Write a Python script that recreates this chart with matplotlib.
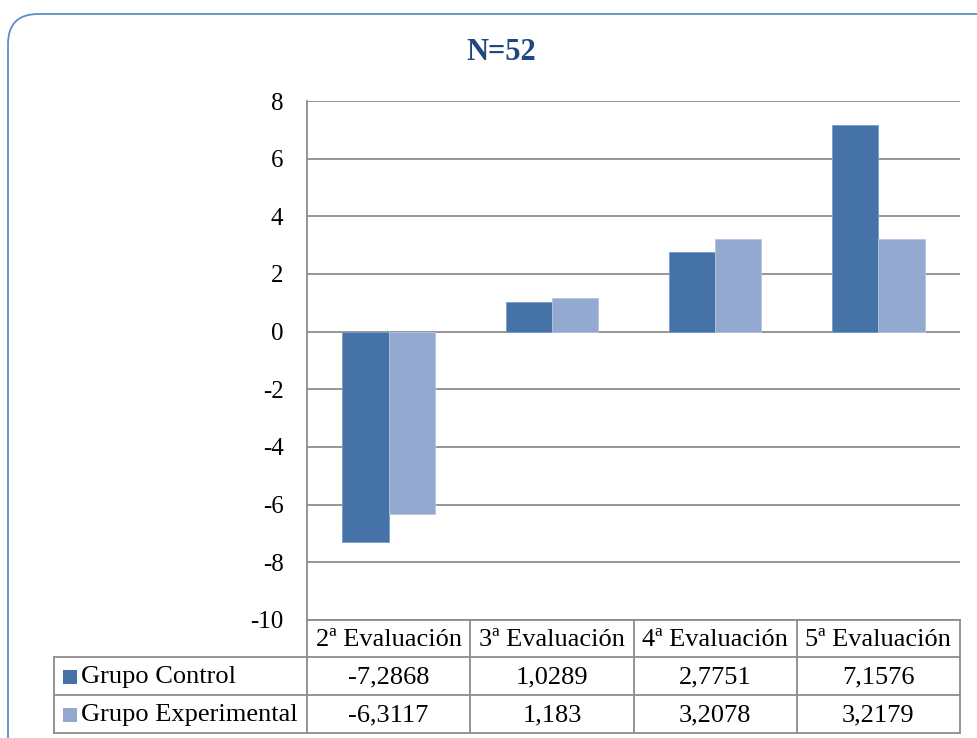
import matplotlib
matplotlib.use("Agg")
import matplotlib.pyplot as plt
from matplotlib.patches import FancyBboxPatch, Rectangle
from matplotlib.lines import Line2D

categories = ["2ª Evaluación", "3ª Evaluación", "4ª Evaluación", "5ª Evaluación"]
series_names = ["Grupo Control", "Grupo Experimental"]
control = [-7.2868, 1.0289, 2.7751, 7.1576]
experimental = [-6.3117, 1.183, 3.2078, 3.2179]
control_labels = ["-7,2868", "1,0289", "2,7751", "7,1576"]
experimental_labels = ["-6,3117", "1,183", "3,2078", "3,2179"]
yticks = [-10, -8, -6, -4, -2, 0, 2, 4, 6, 8]
title = "N=52"

colors = ["#4572A7", "#93A9CF"]
FONT = "Liberation Serif"
W, H = 977, 738
fig = plt.figure(figsize=(W / 100, H / 100), dpi=100)

# overlay for frame and table (pixel coordinates)
ov = fig.add_axes([0, 0, 1, 1])
ov.set_xlim(0, W)
ov.set_ylim(H, 0)
ov.axis("off")

frame = FancyBboxPatch((8, 14), 1100, 900, boxstyle="round,pad=0,rounding_size=30",
                       fill=False, edgecolor="#5F8CC6", linewidth=1.3)
ov.add_patch(frame)

# main axes
L, R, T, B = 307, 960, 101, 620
ax = fig.add_axes([L / W, 1 - B / H, (R - L) / W, (B - T) / H])
n = len(categories)
x = list(range(n))
bw = 0.283
ax.bar([i - bw / 2 for i in x], control, width=bw, color=colors[0],
       edgecolor="#7A9CCB", linewidth=0.6, zorder=3)
ax.bar([i + bw / 2 for i in x], experimental, width=bw, color=colors[1],
       edgecolor="#B4C5E2", linewidth=0.6, zorder=3)
ax.set_xlim(-0.5, n - 0.5)
ax.set_ylim(-10, 8)
ax.set_yticks(yticks)
ax.set_yticklabels([str(v) for v in yticks], fontfamily=FONT, fontsize=18)
ax.tick_params(axis="y", length=0, pad=17)
ax.set_xticks([])
ax.yaxis.grid(True, color="#8C8C8C", linewidth=1.3, zorder=0)
for s in ["top", "right", "bottom"]:
    ax.spines[s].set_visible(False)
ax.spines["left"].set_color("#8C8C8C")
ax.spines["left"].set_linewidth(1.3)
ax.set_facecolor("none")

ov.text(501, 52, title, ha="center", va="center", fontfamily=FONT,
        fontsize=22, fontweight="bold", color="#1F497D")

# data table
lc = "#8C8C8C"
lw = 1.3
colx = [L + (R - L) * i / n for i in range(n + 1)]
rows_y = [620, 657, 695, 733]
tl = 54
for xx in colx:
    ov.add_line(Line2D([xx, xx], [rows_y[0], rows_y[-1]], color=lc, lw=lw))
ov.add_line(Line2D([tl, tl], [rows_y[1], rows_y[-1]], color=lc, lw=lw))
ov.add_line(Line2D([L, R], [rows_y[0], rows_y[0]], color=lc, lw=lw))
for yy in rows_y[1:]:
    ov.add_line(Line2D([tl, R], [yy, yy], color=lc, lw=lw))

fs = 19
for i, c in enumerate(categories):
    ov.text((colx[i] + colx[i + 1]) / 2, (rows_y[0] + rows_y[1]) / 2 + 1, c,
            ha="center", va="center", fontfamily=FONT, fontsize=fs)
for r, (name, labels, col) in enumerate(zip(series_names,
                                            [control_labels, experimental_labels], colors)):
    yc = (rows_y[r + 1] + rows_y[r + 2]) / 2
    ov.add_patch(Rectangle((63, yc - 6), 14, 14, facecolor=col, edgecolor="none"))
    ov.text(81, yc + 1, name, ha="left", va="center", fontfamily=FONT, fontsize=fs)
    for i, lab in enumerate(labels):
        ov.text((colx[i] + colx[i + 1]) / 2, yc + 1, lab, ha="center", va="center",
                fontfamily=FONT, fontsize=fs)

fig.savefig("out.png", dpi=100, facecolor="white")
